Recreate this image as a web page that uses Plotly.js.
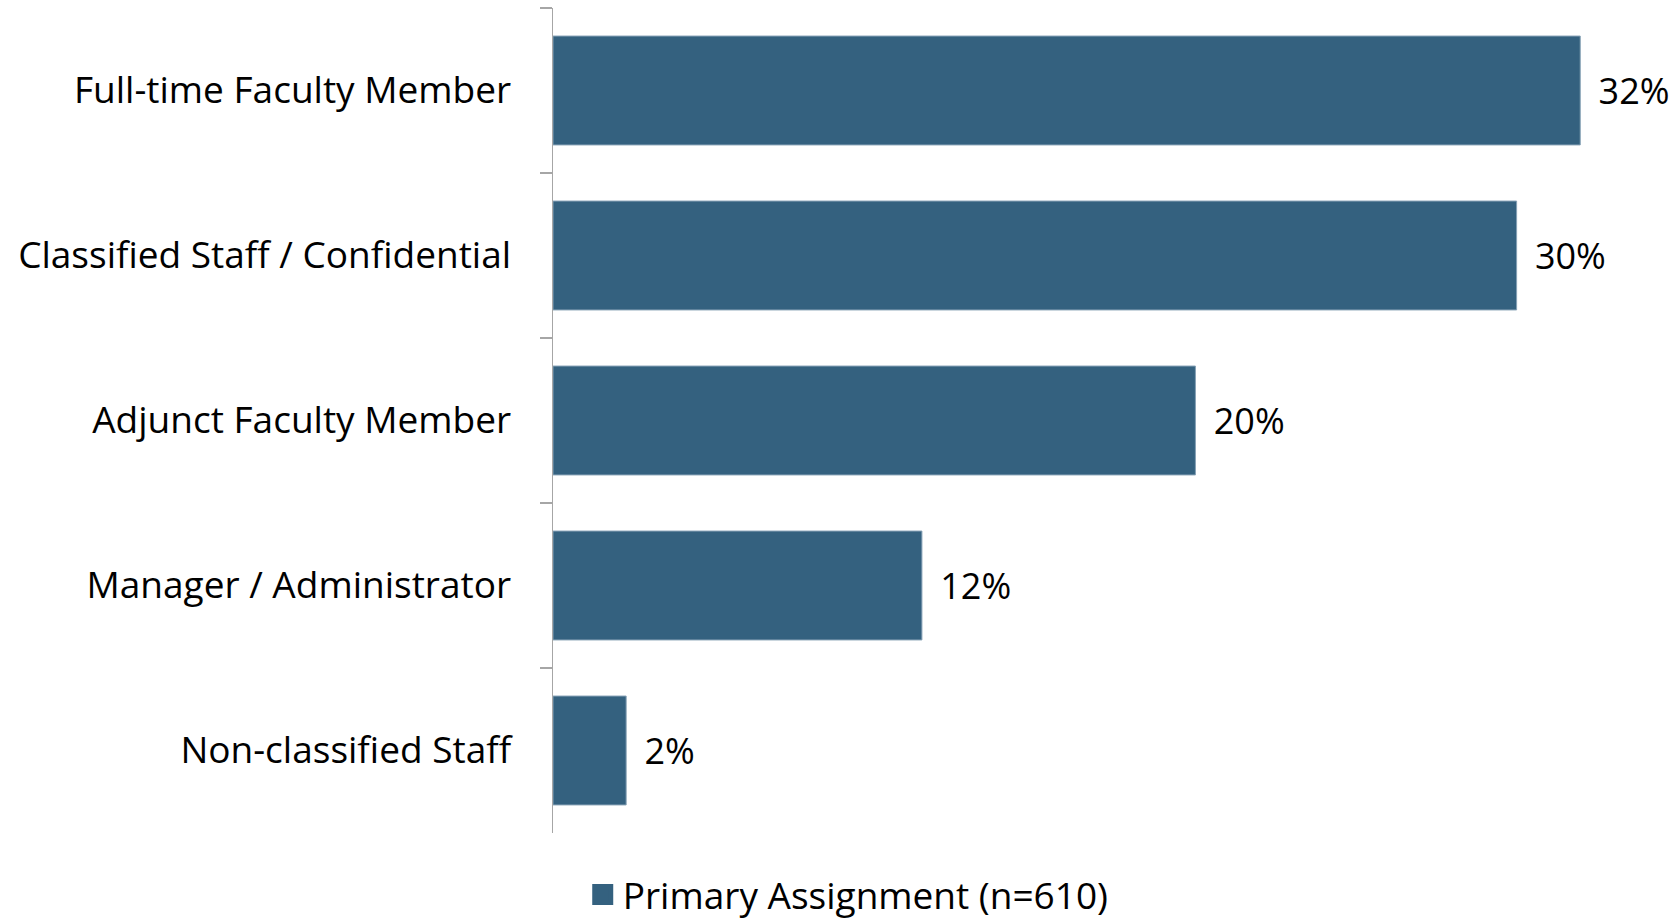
<!DOCTYPE html>
<html>
<head>
<meta charset="utf-8">
<script src="https://cdn.plot.ly/plotly-3.0.1.min.js"></script>
<style>html,body{margin:0;padding:0;background:#fff;}#chart{width:1675px;height:919px;}</style>
</head>
<body>
<div id="chart"></div>
<script>
var categories = ["Full-time Faculty Member", "Classified Staff / Confidential", "Adjunct Faculty Member", "Manager / Administrator", "Non-classified Staff"];
var values = [32.3, 30.3, 20.2, 11.6, 2.3];
var seriesName = "Primary Assignment (n=610)";

var FONT = "'Open Sans', Lato, sans-serif";
var barColor = "#34617f";

var traces = [
  {
    type: "bar",
    orientation: "h",
    y: categories,
    x: values,
    marker: {color: barColor, line: {color: "#86a1b5", width: 1}},
    texttemplate: "\u00a0\u2009%{x:.0f}%",
    textposition: "outside",
    cliponaxis: false,
    textfont: {family: FONT, size: 36, color: "#000"},
    showlegend: false,
    hoverinfo: "skip"
  },
  {
    type: "scatter",
    mode: "markers",
    x: [null], y: [null],
    name: seriesName,
    marker: {symbol: "square", size: 16, color: barColor, line: {color: barColor, width: 5}},
    showlegend: true
  }
];

var layout = {
  width: 1675, height: 919,
  margin: {l: 553, r: 0, t: 8, b: 86, autoexpand: false},
  paper_bgcolor: "#fff", plot_bgcolor: "#fff",
  bargap: 0.34,
  font: {family: FONT, size: 37, color: "#000"},
  xaxis: {range: [0, 35.28], visible: false, fixedrange: true},
  yaxis: {
    type: "category",
    autorange: "reversed",
    showline: true, linecolor: "#a6a6a6", linewidth: 1.5,
    ticks: "outside", ticklen: 12, tickcolor: "#a6a6a6", tickwidth: 1.5,
    tickson: "boundaries",
    ticklabelstandoff: 33,
    showgrid: false, zeroline: false,
    tickfont: {family: FONT, size: 37, color: "#000"},
    automargin: false
  },
  showlegend: true,
  legend: {
    orientation: "h",
    x: 0.0265, xanchor: "left",
    y: -0.075, yanchor: "middle",
    font: {family: FONT, size: 37, color: "#000"},
    bgcolor: "rgba(0,0,0,0)"
  }
};

Plotly.newPlot("chart", traces, layout, {displayModeBar: false, staticPlot: true});
</script>
</body>
</html>
